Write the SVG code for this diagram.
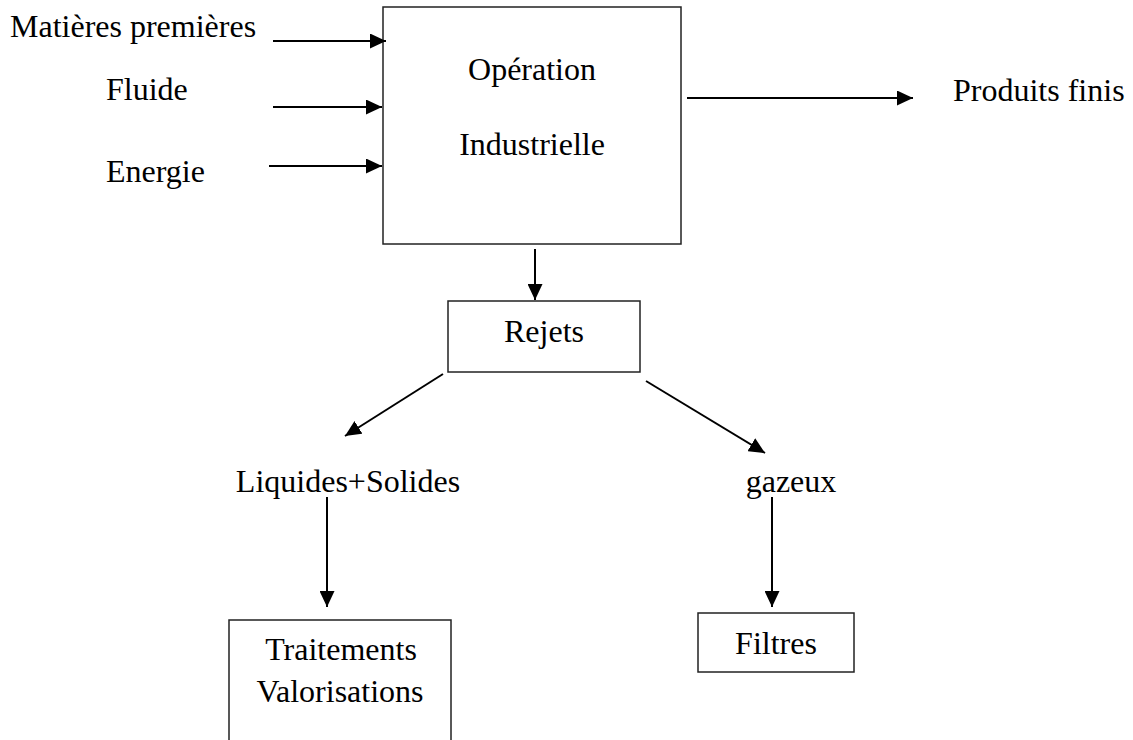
<svg xmlns="http://www.w3.org/2000/svg" width="1133" height="740" viewBox="0 0 1133 740">
<style>
.box{fill:#fff;stroke:#222;stroke-width:1.5}
.t{font-family:"Liberation Serif","Times New Roman",serif;font-size:32px;fill:#000}
.c{text-anchor:middle}
.ar{stroke:#000;stroke-width:2;fill:none;marker-end:url(#ah)}
</style>
<defs>
<marker id="ah" markerUnits="userSpaceOnUse" markerWidth="17" markerHeight="15" refX="16" refY="7.5" orient="auto" viewBox="0 0 17 15">
<path d="M0,0 L16,7.5 L0,15 z" fill="#000"/>
</marker>
</defs>
<rect width="1133" height="740" fill="#fff"/>
<g id="operation">
<rect class="box" x="383" y="7" width="298" height="237"/>
<text class="t c" x="532" y="80">Opération</text>
<text class="t c" x="532" y="155">Industrielle</text>
</g>
<g id="matieres"><text class="t" x="10" y="37">Matières premières</text></g>
<g id="fluide"><text class="t" x="106" y="100">Fluide</text></g>
<g id="energie"><text class="t" x="106" y="182">Energie</text></g>
<g id="produits"><text class="t" x="953" y="101">Produits finis</text></g>
<g id="rejets">
<rect class="box" x="448" y="301" width="192" height="71"/>
<text class="t c" x="544" y="342">Rejets</text>
</g>
<g id="liquides"><text class="t c" x="348" y="492">Liquides+Solides</text></g>
<g id="gazeux"><text class="t c" x="791" y="492">gazeux</text></g>
<g id="traitements">
<rect class="box" x="229" y="620" width="222" height="140"/>
<text class="t c" x="341" y="660">Traitements</text>
<text class="t c" x="340" y="702">Valorisations</text>
</g>
<g id="filtres">
<rect class="box" x="698" y="613" width="156" height="59"/>
<text class="t c" x="776" y="654">Filtres</text>
</g>
<g id="connectors">
<line class="ar" x1="273" y1="41" x2="386" y2="41"/>
<line class="ar" x1="273" y1="107" x2="382" y2="107"/>
<line class="ar" x1="269" y1="166" x2="382" y2="166"/>
<line class="ar" x1="687" y1="98" x2="913" y2="98"/>
<line class="ar" x1="535" y1="249" x2="535" y2="300"/>
<line class="ar" x1="443" y1="374" x2="345" y2="436"/>
<line class="ar" x1="646" y1="381" x2="765" y2="453"/>
<line class="ar" x1="327" y1="497" x2="327" y2="607"/>
<line class="ar" x1="772" y1="497" x2="772" y2="607"/>
</g>
</svg>
